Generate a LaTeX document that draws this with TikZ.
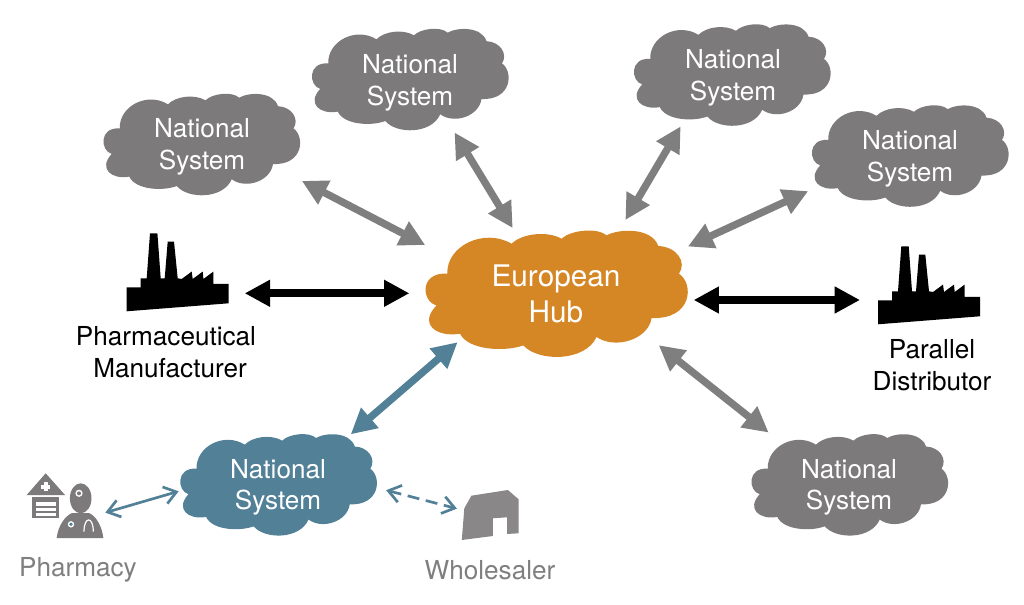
\documentclass[tikz,border=0pt]{standalone}
\usepackage{fontspec}
\setmainfont{TeX Gyre Heros}
\usetikzlibrary{arrows.meta,shapes.symbols}
\definecolor{cloudgrey}{HTML}{7C7A7B}
\definecolor{huborange}{HTML}{D58726}
\definecolor{natteal}{HTML}{528097}
\definecolor{labelgrey}{HTML}{7F7F7F}
\definecolor{iconfill}{HTML}{8A8788}

\tikzset{
  puffs/.pic={
    \path[pic actions] (-109,-20) .. controls (-110,-48) and (-72,-66) .. (-44.7,-50)
      .. controls (-34.7,-60) and (-9.7,-63.3) .. (5.3,-55)
      .. controls (13.7,-63.3) and (40.3,-66.7) .. (50.3,-58.3)
      .. controls (62,-65) and (95.3,-66.7) .. (102,-47.7)
      .. controls (120,-47) and (131,-32) .. (122.7,-20)
      .. controls (138,-10) and (136,26) .. (95.3,24.3)
      .. controls (92,46) and (58.7,56) .. (40.3,43.3)
      .. controls (28.7,68.3) and (-18,68.3) .. (-33,51.7)
      .. controls (-51.3,58.3) and (-88,56.7) .. (-96.3,40)
      .. controls (-120,44) and (-138,30) .. (-119.7,11.7)
      .. controls (-135,8) and (-137,-22) .. (-109,-20) -- cycle;
  },
  factory/.pic={
    \fill[black] (0,0) -- (102,-8) -- (102,-27.3) -- (86.7,-27.3) -- (86.7,-39.7) -- (76.7,-32.3) -- (76,-39.7)
      -- (66,-32.3) -- (65,-39.7) -- (55,-32.3) -- (51,-33) -- (47.3,-69.7) -- (41,-69.7) -- (38,-33) -- (34,-33)
      -- (30.7,-78) -- (23.3,-78) -- (20,-33) -- (14,-33) -- (14,-24) -- (0,-24) -- cycle;
    \coordinate (-east) at (102,-18);
    \coordinate (-west) at (0,-24.3);
  },
  pharmacist/.pic={
    \fill[cloudgrey] (1.7,-43) -- (20.7,-64.7) -- (40,-43) -- cycle;
    \fill[cloudgrey] (6.7,-40.7) rectangle (34.3,-19.7);
    \fill[white] (10.7,-35.7) rectangle (30.7,-32.2);
    \fill[white] (10.7,-30.3) rectangle (30.7,-27);
    \fill[white] (10.7,-24.7) rectangle (30.7,-21.6);
    \fill[white] (18.7,-56) rectangle (22.7,-46.6);
    \fill[white] (16,-53.3) rectangle (25.4,-49.3);
    \fill[cloudgrey] (55.7,-39.7) ellipse (10.8 and 15);
    \fill[white] (54,-44.7) circle (3.6);
    \fill[cloudgrey] (54,-44.7) circle (2);
    \fill[cloudgrey] (31.7,0) .. controls (33,-12) and (40,-22) .. (47,-25) -- (64,-25)
      .. controls (71,-22) and (77,-12) .. (78.3,0) -- cycle;
    \draw[white,line width=.9pt] (59,-6.3) .. controls (59,-22) and (68.3,-22) .. (68.3,-6.3);
    \fill[white] (46,-13.7) circle (3.2);
    \fill[natteal] (46,-13.7) circle (1.9);
    \coordinate (-east) at (79,-25);
  },
  warehouse/.pic={
    \fill[iconfill] (0,0) -- (2.5,-31.7) -- (9.6,-44.3) -- (46.1,-50) -- (56.8,-40.7) -- (56.8,-6.7)
      -- (45.3,-6) -- (45.3,-22.7) -- (31.1,-21.7) -- (31.1,-4) -- cycle;
    \coordinate (-west) at (0.3,-30);
  }
}

\begin{document}
\begin{tikzpicture}[
  x=.75pt,y=-.75pt,
  natcloud/.style={cloud,cloud puffs=11,cloud puff arc=115,cloud ignores aspect,text=white,
    minimum width=147pt,minimum height=77pt,inner sep=0pt,align=center,
    font=\fontsize{19.6}{23.6}\selectfont},
  hubcloud/.style={natcloud,minimum width=198pt,minimum height=94pt,
    font=\fontsize{22.3}{27}\selectfont},
  natpuffs/.style={fill=cloudgrey,xscale=.75,yscale=.803},
  caption/.style={align=center,font=\fontsize{19.6}{23.6}\selectfont},
  greylink/.style={{Triangle[length=19pt,width=19pt]}-{Triangle[length=19pt,width=19pt]},labelgrey,line width=5.5pt},
  blacklink/.style={greylink,black,line width=6pt},
  teallink/.style={greylink,natteal},
  thinlink/.style={{Straight Barb[length=9pt,width=13pt]}-{Straight Barb[length=9pt,width=13pt]},natteal,line width=2pt}
]
  \useasboundingbox (0,0) rectangle (1024,605);

  \pic[fill=huborange] at (556.3,293.7) {puffs};
  \pic[natpuffs] at (201.5,144.5) {puffs};
  \pic[natpuffs] at (410,79.5) {puffs};
  \pic[natpuffs] at (732,75) {puffs};
  \pic[natpuffs] at (910,156) {puffs};
  \pic[natpuffs] at (849.5,484.8) {puffs};
  \pic[natpuffs,fill=natteal] at (278.3,484.8) {puffs};

  \node[hubcloud] (hub) at (556,294) {European\\Hub};
  \node[natcloud] (natA) at (202,147) {National\\System};
  \node[natcloud] (natB) at (410,83) {National\\System};
  \node[natcloud] (natC) at (733,78) {National\\System};
  \node[natcloud] (natD) at (910,159) {National\\System};
  \node[natcloud] (natE) at (849,487.5) {National\\System};
  \node[natcloud] (natF) at (278,487.5) {National\\System};

  \pic (maker) at (126.7,311.3) {factory};
  \pic (parallel) at (878,324.3) {factory};
  \pic (pharmacy) at (25,538) {pharmacist};
  \pic (wholesale) at (461.8,540) {warehouse};

  \node[caption] (makerlabel) at (166,352) {Pharmaceutical\\\hspace*{6pt}Manufacturer};
  \node[caption] (parallellabel) at (932,365) {Parallel\\Distributor};
  \node[caption,text=labelgrey] (pharmacylabel) at (78,570) {Pharmacy};
  \node[caption,text=labelgrey] (wholesalelabel) at (490,570) {Wholesaler};

  \draw[greylink,shorten <=13.5pt,shorten >=28pt] (natA.-17.6) -- (hub.162);
  \draw[greylink,shorten <=4.4pt,shorten >=15.4pt] (natB.-47) -- (hub.124.6);
  \draw[greylink,shorten <=7.7pt,shorten >=18pt] (natC.-140.4) -- (hub.43.1);
  \draw[greylink,shorten <=14.1pt,shorten >=28.2pt] (natD.-164.9) -- (hub.18.8);
  \draw[greylink,shorten <=18.2pt,shorten >=9.7pt] (natE.147.4) -- (hub.-25);
  \draw[teallink,shorten <=13.7pt,shorten >=5.8pt] (natF.35) -- (hub.205.7);
  \draw[blacklink,shorten <=12pt,shorten >=11pt] (maker-east) -- (maker-east -| hub.180);
  \draw[blacklink,shorten <=13.5pt,shorten >=4.5pt] (parallel-west) -- (parallel-west -| hub.-3.5);
  \draw[thinlink,shorten <=1pt,shorten >=1pt] (pharmacy-east) -- (natF.182.5);
  \draw[thinlink,dash pattern=on 9pt off 5pt,shorten <=8pt,shorten >=4pt] (natF.0) -- (wholesale-west);
\end{tikzpicture}
\end{document}
